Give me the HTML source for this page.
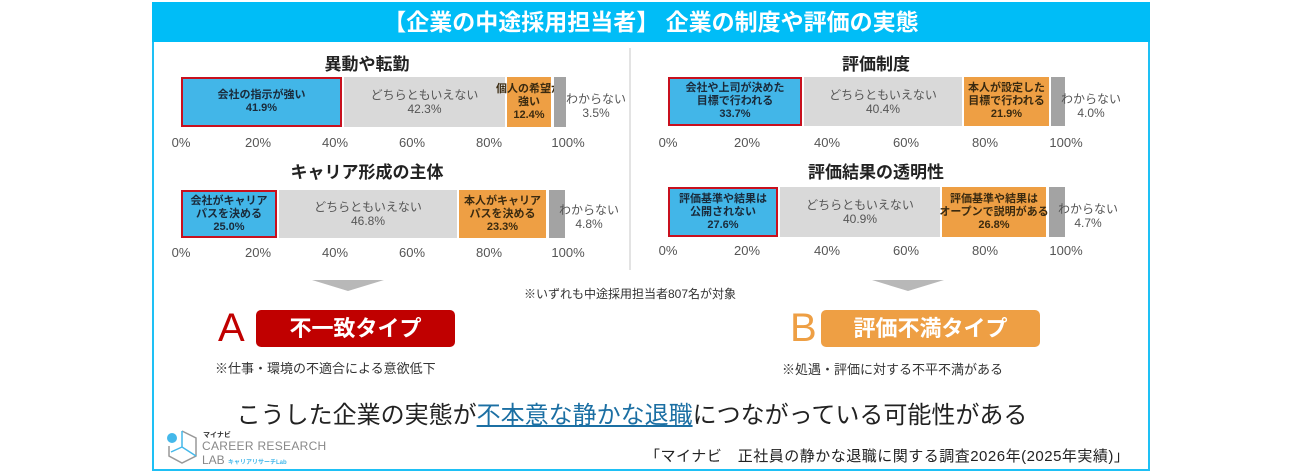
<!DOCTYPE html>
<html><head><meta charset="utf-8"><style>
body{margin:0;width:1300px;height:475px;background:#fff;position:relative;overflow:hidden;font-family:"Liberation Sans","Noto Sans CJK JP",sans-serif;}
.a{position:absolute;}
.frame{left:152px;top:2px;width:994px;height:465px;border:2px solid #1ec0f5;}
.head{left:152px;top:2px;width:998px;height:40px;background:#00bdf7;color:#fff;font-size:23px;font-weight:bold;text-align:center;line-height:40px;}
.t{font-size:17px;font-weight:bold;color:#222;text-align:center;width:300px;}
.seg{position:absolute;display:flex;align-items:center;justify-content:center;text-align:center;font-size:11px;font-weight:bold;line-height:13px;color:#333;box-sizing:border-box;white-space:nowrap;}
.b{background:#42b6e8;border:2px solid #c8101e;color:#1a2a3a;}
.g{background:#d9d9d9;color:#555;font-weight:normal;font-size:12px;line-height:14px;}
.o{background:#ee9f44;color:#3a2a10;}
.d{background:#a3a3a3;}
.lab{font-size:12px;color:#555;text-align:center;line-height:14px;width:60px;}
.tk{font-size:13px;color:#555;width:50px;text-align:center;}
</style></head><body>
<div class="a frame"></div>
<div class="a head">【企業の中途採用担当者】 企業の制度や評価の実態</div>
<div class="a" style="left:629px;top:48px;width:2px;height:222px;background:#e3e3e3"></div>

<div class="a t" style="left:217px;top:50px">異動や転勤</div>
<div class="seg b" style="left:181px;top:77px;width:161px;height:50px">会社の指示が強い<br>41.9%</div>
<div class="seg g" style="left:344px;top:77px;width:161px;height:50px">どちらともいえない<br>42.3%</div>
<div class="seg o" style="left:507px;top:77px;width:44px;height:50px">個人の希望が<br>強い<br>12.4%</div>
<div class="seg d" style="left:554px;top:77px;width:12px;height:50px"></div>
<div class="a lab" style="left:566px;top:92px">わからない<br>3.5%</div>
<div class="a tk" style="left:156px;top:135px">0%</div><div class="a tk" style="left:233px;top:135px">20%</div><div class="a tk" style="left:310px;top:135px">40%</div><div class="a tk" style="left:387px;top:135px">60%</div><div class="a tk" style="left:464px;top:135px">80%</div><div class="a tk" style="left:543px;top:135px">100%</div>

<div class="a t" style="left:217px;top:158px">キャリア形成の主体</div>
<div class="seg b" style="left:181px;top:190px;width:96px;height:48px">会社がキャリア<br>パスを決める<br>25.0%</div>
<div class="seg g" style="left:279px;top:190px;width:178px;height:48px">どちらともいえない<br>46.8%</div>
<div class="seg o" style="left:459px;top:190px;width:87px;height:48px">本人がキャリア<br>パスを決める<br>23.3%</div>
<div class="seg d" style="left:549px;top:190px;width:16px;height:48px"></div>
<div class="a lab" style="left:559px;top:203px">わからない<br>4.8%</div>
<div class="a tk" style="left:156px;top:245px">0%</div><div class="a tk" style="left:233px;top:245px">20%</div><div class="a tk" style="left:310px;top:245px">40%</div><div class="a tk" style="left:387px;top:245px">60%</div><div class="a tk" style="left:464px;top:245px">80%</div><div class="a tk" style="left:543px;top:245px">100%</div>

<div class="a t" style="left:726px;top:50px">評価制度</div>
<div class="seg b" style="left:668px;top:77px;width:134px;height:49px">会社や上司が決めた<br>目標で行われる<br>33.7%</div>
<div class="seg g" style="left:804px;top:77px;width:158px;height:49px">どちらともいえない<br>40.4%</div>
<div class="seg o" style="left:964px;top:77px;width:85px;height:49px">本人が設定した<br>目標で行われる<br>21.9%</div>
<div class="seg d" style="left:1051px;top:77px;width:14px;height:49px"></div>
<div class="a lab" style="left:1061px;top:92px">わからない<br>4.0%</div>
<div class="a tk" style="left:643px;top:135px">0%</div><div class="a tk" style="left:722px;top:135px">20%</div><div class="a tk" style="left:802px;top:135px">40%</div><div class="a tk" style="left:881px;top:135px">60%</div><div class="a tk" style="left:960px;top:135px">80%</div><div class="a tk" style="left:1041px;top:135px">100%</div>

<div class="a t" style="left:726px;top:158px">評価結果の透明性</div>
<div class="seg b" style="left:668px;top:187px;width:110px;height:50px">評価基準や結果は<br>公開されない<br>27.6%</div>
<div class="seg g" style="left:780px;top:187px;width:160px;height:50px">どちらともいえない<br>40.9%</div>
<div class="seg o" style="left:942px;top:187px;width:104px;height:50px">評価基準や結果は<br>オープンで説明がある<br>26.8%</div>
<div class="seg d" style="left:1049px;top:187px;width:16px;height:50px"></div>
<div class="a lab" style="left:1058px;top:202px">わからない<br>4.7%</div>
<div class="a tk" style="left:643px;top:243px">0%</div><div class="a tk" style="left:722px;top:243px">20%</div><div class="a tk" style="left:802px;top:243px">40%</div><div class="a tk" style="left:881px;top:243px">60%</div><div class="a tk" style="left:960px;top:243px">80%</div><div class="a tk" style="left:1041px;top:243px">100%</div>

<div class="a" style="left:312px;top:280px;width:0;height:0;border-left:36px solid transparent;border-right:36px solid transparent;border-top:11px solid #b8b8b8"></div>
<div class="a" style="left:872px;top:280px;width:0;height:0;border-left:36px solid transparent;border-right:36px solid transparent;border-top:11px solid #b8b8b8"></div>
<div class="a" style="left:430px;top:285px;width:400px;text-align:center;font-size:12px;color:#333">※いずれも中途採用担当者807名が対象</div>

<div class="a" style="left:218px;top:306px;font-size:40px;color:#c00000;line-height:44px">A</div>
<div class="a" style="left:256px;top:310px;width:199px;height:37px;background:#c00000;border-radius:5px;color:#fff;font-size:22px;font-weight:bold;text-align:center;line-height:37px">不一致タイプ</div>
<div class="a" style="left:215px;top:358px;font-size:13px;color:#333">※仕事・環境の不適合による意欲低下</div>
<div class="a" style="left:790px;top:306px;font-size:40px;color:#ee9f44;line-height:44px">B</div>
<div class="a" style="left:821px;top:310px;width:219px;height:37px;background:#ee9f44;border-radius:5px;color:#fff;font-size:22px;font-weight:bold;text-align:center;line-height:37px">評価不満タイプ</div>
<div class="a" style="left:782px;top:359px;font-size:13px;color:#333">※処遇・評価に対する不平不満がある</div>

<div class="a" style="left:232px;top:395px;width:800px;text-align:center;font-size:24px;color:#222;white-space:nowrap">こうした企業の実態が<span style="color:#1b6fa3;text-decoration:underline">不本意な静かな退職</span>につながっている可能性がある</div>

<svg class="a" style="left:165px;top:428px" width="35" height="38" viewBox="0 0 35 38"><path d="M17 3 L31 10 L31 28 L17 35 L4 28 L4 18" fill="none" stroke="#999" stroke-width="1.5"/><path d="M17 3 L17 19 L31 28 M17 19 L6 24" fill="none" stroke="#44b8ea" stroke-width="1.5"/><circle cx="7" cy="10" r="5" fill="#44b8ea"/></svg>
<div class="a" style="left:203px;top:430px;font-size:7px;font-weight:bold;color:#333">マイナビ</div>
<div class="a" style="left:202px;top:439px;font-size:12px;color:#888;letter-spacing:0.3px">CAREER RESEARCH</div>
<div class="a" style="left:202px;top:453px;font-size:12px;color:#888">LAB <span style="font-size:6px;color:#44b8ea;font-weight:bold">キャリアリサーチLab</span></div>

<div class="a" style="left:645px;top:445px;font-size:15px;color:#222;white-space:nowrap;letter-spacing:0.5px">「マイナビ　正社員の静かな退職に関する調査2026年(2025年実績)」</div>
</body></html>
